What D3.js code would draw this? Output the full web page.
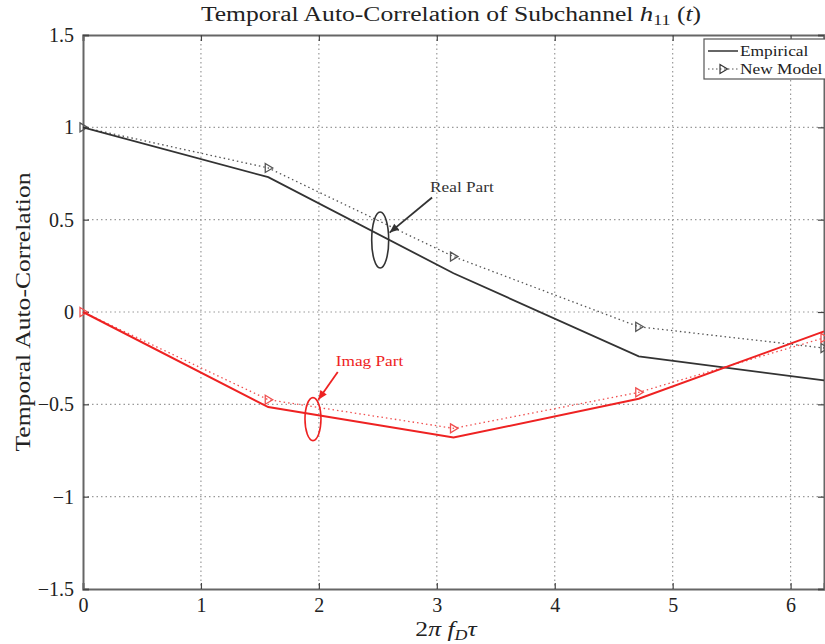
<!DOCTYPE html>
<html>
<head>
<meta charset="utf-8">
<script src="https://cdn.jsdelivr.net/npm/d3@7"></script>
<style>
  body { margin: 0; background: #fff; }
  svg { display: block; font-family: "Liberation Serif", "DejaVu Serif", serif; }
</style>
</head>
<body>
<svg id="chart" width="825" height="644"></svg>
<script>
// sample lags (0, pi/2, pi, 3pi/2, 2pi)
const lags = [0, 1.5708, 3.1416, 4.7124, 6.2832];
const realEmpirical = [1.0, 0.73, 0.21, -0.24, -0.37];
const realModel = [1.0, 0.78, 0.30, -0.08, -0.195];
const imagEmpirical = [0.0, -0.515, -0.68, -0.47, -0.105];
const imagModel = [0.0, -0.475, -0.63, -0.435, -0.14];
const xTicks = [0, 1, 2, 3, 4, 5, 6];
const yTicks = [-1.5, -1, -0.5, 0, 0.5, 1, 1.5];
const legendLabels = ["Empirical", "New Model"];

const m = { top: 35, right: 1, bottom: 55, left: 83 };
const W = 825, H = 644;
const w = W - m.left - m.right, h = H - m.top - m.bottom;
const wide = 1.28; // serif text is drawn a little wider, like the original

const svg = d3.select("#chart");
const g = svg.append("g").attr("transform", "translate(" + m.left + "," + m.top + ")");

const x = d3.scaleLinear().domain([0, 2 * Math.PI]).range([0, w]);
const y = d3.scaleLinear().domain([-1.5, 1.5]).range([h, 0]);

// grid
g.append("g").selectAll("line").data(xTicks.slice(1)).join("line")
  .attr("x1", d => x(d)).attr("x2", d => x(d)).attr("y1", 0).attr("y2", h)
  .attr("stroke", "#999").attr("stroke-width", 1.2).attr("stroke-dasharray", "1.5,3");
g.append("g").selectAll("line").data(yTicks.slice(1, -1)).join("line")
  .attr("x1", 0).attr("x2", w).attr("y1", d => y(d)).attr("y2", d => y(d))
  .attr("stroke", "#999").attr("stroke-width", 1.2).attr("stroke-dasharray", "1.5,3");

// axes (inward ticks)
const axisColor = "#666";
const xAxis = g.append("g").attr("transform", "translate(0," + h + ")")
  .call(d3.axisBottom(x).tickValues(xTicks).tickSize(-6).tickPadding(9).tickFormat(d3.format("d")));
const xTop = g.append("g").call(d3.axisTop(x).tickValues(xTicks).tickSize(-6).tickFormat(""));
const yAxis = g.append("g")
  .call(d3.axisLeft(y).tickValues(yTicks).tickSize(-6).tickPadding(9).tickFormat(d => d3.format("")(d).replace("-", "\u2212")));
const yRight = g.append("g").attr("transform", "translate(" + w + ",0)")
  .call(d3.axisRight(y).tickValues(yTicks).tickSize(-6).tickFormat(""));
[xAxis, xTop, yAxis, yRight].forEach(a => {
  a.select(".domain").attr("stroke", axisColor).attr("stroke-width", 2);
  a.selectAll(".tick line").attr("stroke", "#444").attr("stroke-width", 1.2);
  a.selectAll("text").attr("font-size", 20).attr("fill", "#222")
    .attr("font-family", "Liberation Serif, DejaVu Serif, serif");
});

// lines
const line = d3.line().x((d, i) => x(lags[i])).y(d => y(d));
const series = [
  { v: realModel, color: "#555", width: 1.3, dash: "1.5,3", marker: true },
  { v: imagModel, color: "#f05050", width: 1.3, dash: "1.5,3", marker: true },
  { v: realEmpirical, color: "#333", width: 1.8, dash: null, marker: false },
  { v: imagEmpirical, color: "#ee2222", width: 2, dash: null, marker: false }
];
const tri = "M-3,-4.5L4.5,0L-3,4.5Z";
series.forEach(s => {
  g.append("path").datum(s.v).attr("d", line).attr("fill", "none")
    .attr("stroke", s.color).attr("stroke-width", s.width)
    .attr("stroke-dasharray", s.dash);
  if (s.marker) {
    g.append("g").selectAll("path").data(s.v).join("path")
      .attr("d", tri)
      .attr("transform", (d, i) => "translate(" + x(lags[i]) + "," + y(d) + ")")
      .attr("fill", "none").attr("stroke", s.color).attr("stroke-width", 1.3);
  }
});

// annotations
function annotate(color, ex, ey, rx, ry, ax, ay, bx, by, label) {
  g.append("ellipse").attr("cx", x(ex)).attr("cy", y(ey)).attr("rx", rx).attr("ry", ry)
    .attr("fill", "none").attr("stroke", color).attr("stroke-width", 1.6);
  const x1 = x(ax), y1 = y(ay), x2 = x(bx), y2 = y(by);
  g.append("line").attr("x1", x1).attr("y1", y1).attr("x2", x2).attr("y2", y2)
    .attr("stroke", color).attr("stroke-width", 1.8);
  const ang = Math.atan2(y2 - y1, x2 - x1);
  const L = 10, a = 0.4;
  g.append("path")
    .attr("d", "M" + x2 + "," + y2 +
      "L" + (x2 - L * Math.cos(ang - a)) + "," + (y2 - L * Math.sin(ang - a)) +
      "L" + (x2 - L * Math.cos(ang + a)) + "," + (y2 - L * Math.sin(ang + a)) + "Z")
    .attr("fill", color);
  g.append("text")
    .attr("transform", "translate(" + (x(ax) - 2) + "," + (y(ay) - 6) + ") scale(1.15,1)")
    .attr("font-size", 15).attr("fill", color).text(label);
}
annotate("#333", 2.52, 0.39, 8.5, 28, 2.96, 0.62, 2.60, 0.43, "Real Part");
annotate("#ee2222", 1.95, -0.58, 8, 21.5, 2.16, -0.325, 1.995, -0.475, "Imag Part");

// legend
const lg = g.append("g").attr("transform", "translate(" + (w - 120) + ",4)");
lg.append("rect").attr("width", 122).attr("height", 40)
  .attr("fill", "#fff").attr("stroke", "#555").attr("stroke-width", 1.2);
lg.append("line").attr("x1", 4).attr("x2", 34).attr("y1", 12).attr("y2", 12)
  .attr("stroke", "#333").attr("stroke-width", 1.5);
lg.append("line").attr("x1", 4).attr("x2", 34).attr("y1", 30).attr("y2", 30)
  .attr("stroke", "#555").attr("stroke-width", 1.2).attr("stroke-dasharray", "1.5,2.5");
lg.append("path").attr("d", tri).attr("transform", "translate(19,30)")
  .attr("fill", "none").attr("stroke", "#333").attr("stroke-width", 1.2);
lg.selectAll("text").data(legendLabels).join("text")
  .attr("transform", (d, i) => "translate(36," + (17 + i * 18) + ") scale(1.12,1)")
  .attr("font-size", 15.5).attr("fill", "#222").text(d => d);

// title
const title = svg.append("text").attr("transform", "translate(451,21) scale(" + wide + ",1)")
  .attr("text-anchor", "middle").attr("font-size", 20).attr("fill", "#222");
title.append("tspan").text("Temporal Auto-Correlation of Subchannel ");
title.append("tspan").attr("font-style", "italic").attr("font-size", 21).text("h");
title.append("tspan").attr("font-size", 14).attr("dy", 4).text("11");
title.append("tspan").attr("dy", -4).text(" (");
title.append("tspan").attr("font-style", "italic").text("t");
title.append("tspan").text(")");

// x label
const xl = svg.append("text").attr("transform", "translate(446,636) scale(" + wide + ",1)")
  .attr("text-anchor", "middle").attr("font-size", 20).attr("fill", "#222");
xl.append("tspan").text("2");
xl.append("tspan").attr("font-style", "italic").text("\u03c0 f");
xl.append("tspan").attr("font-style", "italic").attr("font-size", 14).attr("dy", 4).text("D");
xl.append("tspan").attr("font-style", "italic").attr("dy", -4).text("\u03c4");

// y label
svg.append("text").attr("transform", "translate(30,312) rotate(-90) scale(" + wide + ",1)")
  .attr("text-anchor", "middle").attr("font-size", 20).attr("fill", "#222")
  .text("Temporal Auto-Correlation");
</script>
</body>
</html>
